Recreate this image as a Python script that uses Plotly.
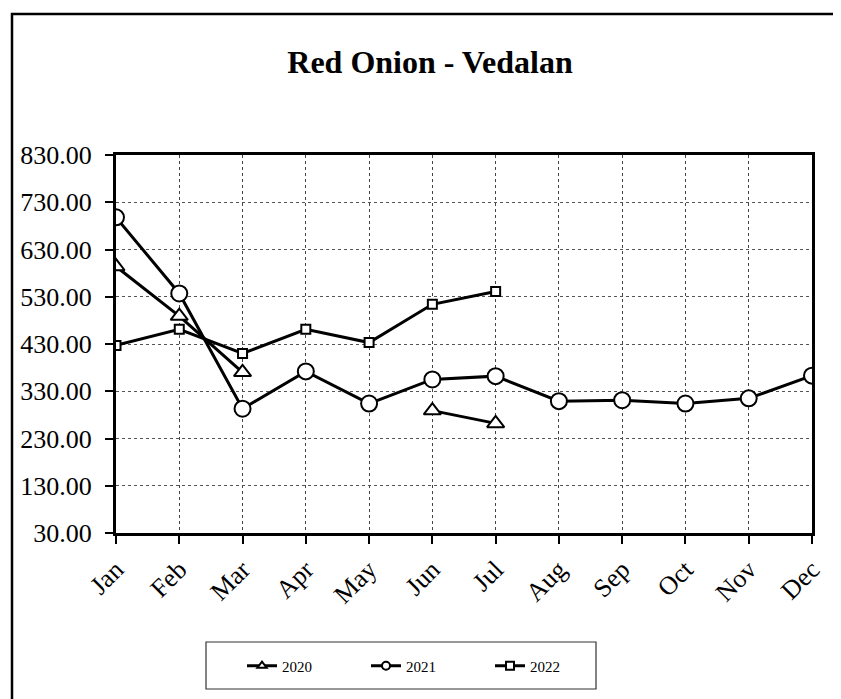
import plotly.graph_objects as go

months = ["Jan", "Feb", "Mar", "Apr", "May", "Jun", "Jul", "Aug", "Sep", "Oct", "Nov", "Dec"]
y2020 = [594, 489, 370, None, None, 289, 262, None, None, None, None, None]
y2021 = [698, 537, 293, 372, 304, 355, 362, 309, 311, 304, 315, 363]
y2022 = [427, 461, 410, 461, 433, 514, 541, None, None, None, None, None]
series_names = ["2020", "2021", "2022"]
y_ticks = [30, 130, 230, 330, 430, 530, 630, 730, 830]

W, H = 841, 699
OFF = 8  # page body margin offset
L, R, T, B = 116 - OFF, 812 - OFF, 155 - OFF, 533 - OFF
FONT = "Liberation Serif, Times New Roman, serif"

def px(x):
    return (x - OFF - L) / (R - L)

def py(y):
    return (B - (y - OFF)) / (B - T)

fig = go.Figure()
styles = [
    dict(symbol="triangle-up", size=15),
    dict(symbol="circle", size=16),
    dict(symbol="square", size=9),
]
legend_sizes = [8, 8, 8]
for name, ys, st, ls in zip(series_names, [y2020, y2021, y2022], styles, legend_sizes):
    fig.add_trace(go.Scatter(
        x=months, y=ys, mode="lines+markers", name=name, showlegend=False,
        line=dict(color="black", width=3),
        marker=dict(symbol=st["symbol"], size=st["size"], color="white",
                    line=dict(color="black", width=2)),
        connectgaps=False,
    ))
    fig.add_trace(go.Scatter(
        x=[None], y=[None], mode="lines+markers", name=name, showlegend=True,
        line=dict(color="black", width=3),
        marker=dict(symbol=st["symbol"], size=ls, color="white",
                    line=dict(color="black", width=2)),
    ))

fig.update_layout(
    width=W, height=H,
    margin=dict(l=L, r=W - R, t=T, b=H - B),
    paper_bgcolor="white", plot_bgcolor="white",
    font=dict(family=FONT, color="black"),
    title=dict(text="<b>Red Onion - Vedalan</b>", font=dict(size=32, family=FONT, color="black"),
               xref="paper", x=px(430), xanchor="center",
               yref="container", y=1 - (62 - OFF) / H, yanchor="middle"),
    showlegend=True,
    legend=dict(orientation="h", x=px(242), xanchor="left", y=py(666), yanchor="middle",
                font=dict(size=15, family=FONT), entrywidth=79, entrywidthmode="pixels",
                bgcolor="rgba(0,0,0,0)", borderwidth=0),
    xaxis=dict(type="category", categoryorder="array", categoryarray=months,
               range=[0, 11], showline=True, mirror=True, linecolor="black", linewidth=3,
               ticks="outside", ticklen=8, tickwidth=2, tickcolor="black",
               tickangle=-45, tickfont=dict(size=26, family=FONT),
               showgrid=True, gridcolor="#444444", gridwidth=1, griddash="dot",
               zeroline=False),
    yaxis=dict(range=[30, 830], tickvals=y_ticks, tickformat=".2f",
               showline=True, mirror=True, linecolor="black", linewidth=3,
               ticks="outside", ticklen=8, tickwidth=2, tickcolor="black",
               tickfont=dict(size=26, family=FONT), ticklabelstandoff=8,
               showgrid=True, gridcolor="#555555", gridwidth=1, griddash="dot",
               zeroline=False),
    xaxis2=dict(overlaying="x", anchor="y", range=[0, 11], dtick=1, tick0=0,
                ticks="inside", ticklen=8, tickwidth=2, tickcolor="black",
                showticklabels=False, showgrid=False, zeroline=False, showline=False),
    yaxis2=dict(overlaying="y", anchor="x", side="left", range=[30, 830], tickvals=y_ticks,
                ticks="inside", ticklen=8, tickwidth=2, tickcolor="black",
                showticklabels=False, showgrid=False, zeroline=False, showline=False),
)

# outer chart frame
fig.add_shape(type="rect", xref="paper", yref="paper",
              x0=px(12), x1=px(W + 20), y0=py(H + 20), y1=py(14),
              line=dict(color="black", width=2.5), fillcolor="rgba(0,0,0,0)", layer="below")
# legend box
fig.add_shape(type="rect", xref="paper", yref="paper",
              x0=px(206), x1=px(596), y0=py(689), y1=py(642),
              line=dict(color="#333333", width=1.2), fillcolor="rgba(0,0,0,0)")

fig.write_html("out.html")
